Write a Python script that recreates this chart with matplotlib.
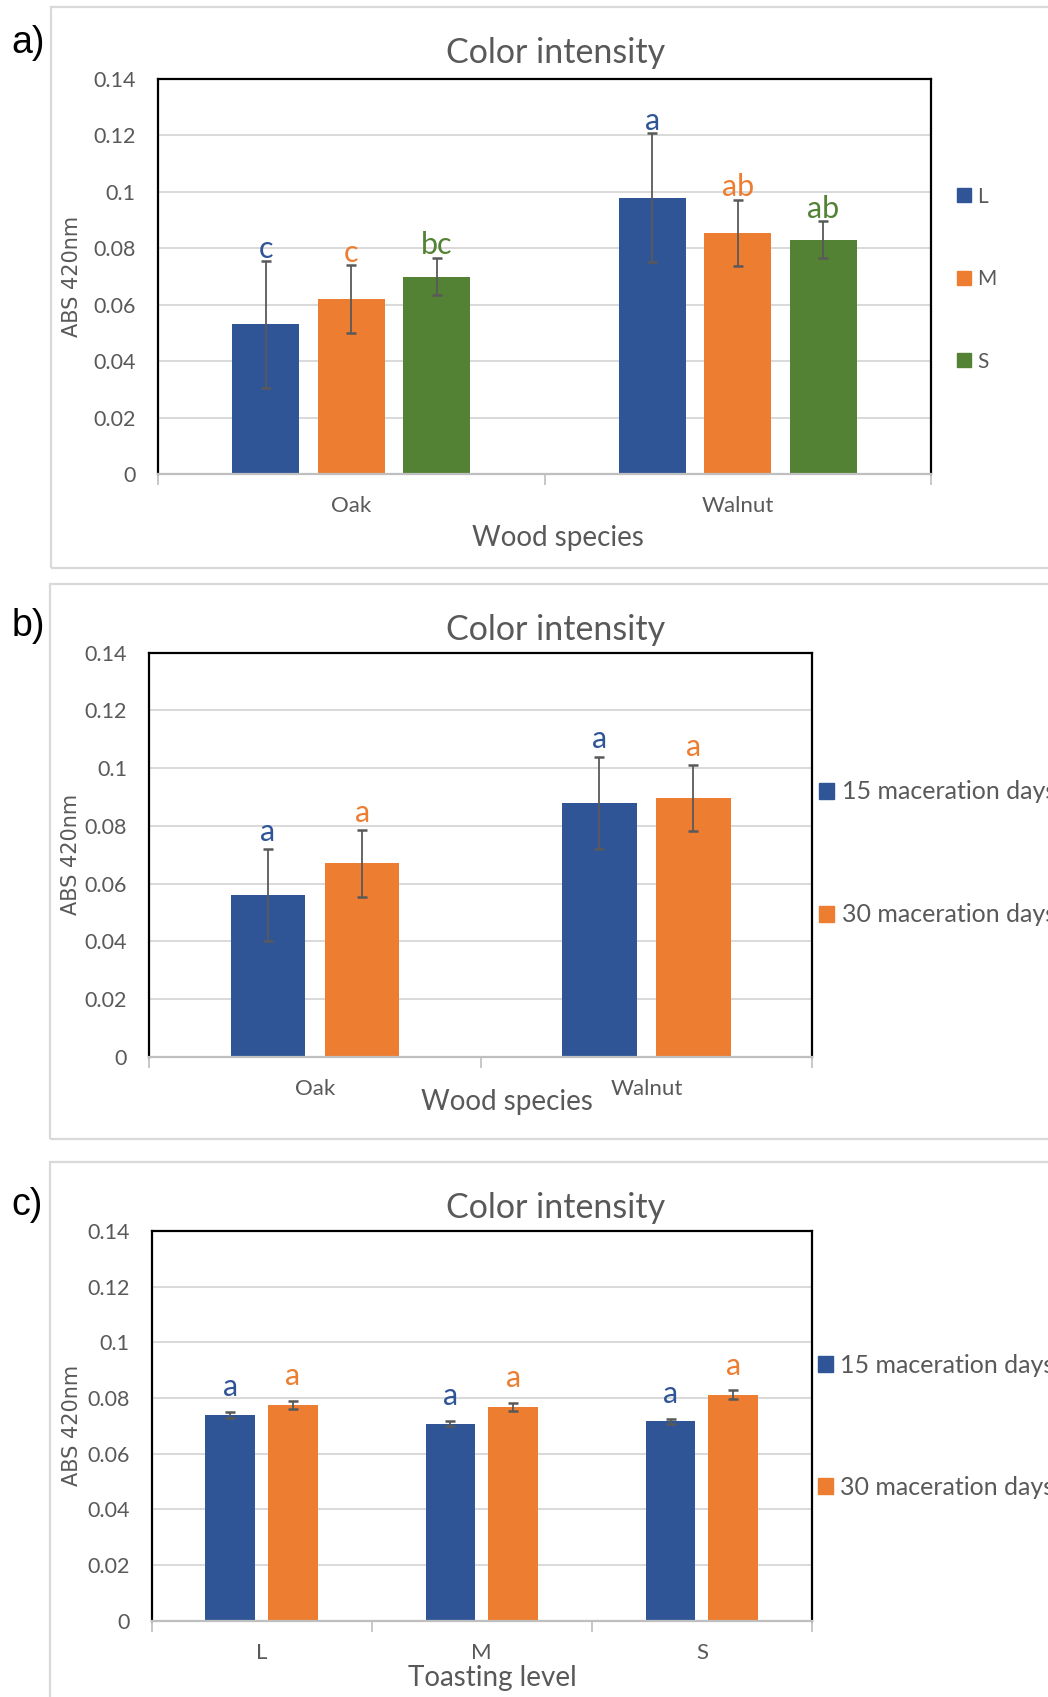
import matplotlib
matplotlib.use('Agg')

import matplotlib.pyplot as plt
from matplotlib.patches import Rectangle, Patch
import numpy as np

plt.rcParams['font.family'] = ['Lato', 'DejaVu Sans']

BLUE = '#2F5597'
ORANGE = '#ED7D31'
GREEN = '#548235'
TXT = '#595959'

# --- a) wood species, by toasting level ---
a_categories = ['Oak', 'Walnut']
a_L = [0.053, 0.098]
a_L_err = [0.0225, 0.0228]
a_L_letters = ['c', 'a']
a_M = [0.062, 0.0855]
a_M_err = [0.012, 0.0117]
a_M_letters = ['c', 'ab']
a_S = [0.070, 0.083]
a_S_err = [0.0066, 0.0066]
a_S_letters = ['bc', 'ab']

# --- b) wood species, by maceration time ---
b_categories = ['Oak', 'Walnut']
b_15 = [0.056, 0.088]
b_15_err = [0.016, 0.016]
b_15_letters = ['a', 'a']
b_30 = [0.067, 0.0897]
b_30_err = [0.0115, 0.0115]
b_30_letters = ['a', 'a']

# --- c) toasting level, by maceration time ---
c_categories = ['L', 'M', 'S']
c_15 = [0.0739, 0.0708, 0.0716]
c_15_err = [0.0010, 0.0008, 0.0008]
c_15_letters = ['a', 'a', 'a']
c_30 = [0.0774, 0.0767, 0.0812]
c_30_err = [0.0014, 0.0014, 0.0015]
c_30_letters = ['a', 'a', 'a']

W, H = 1048, 1697
fig = plt.figure(figsize=(W / 100, H / 100), dpi=100)


def px_rect(l, t, r, b):
    return [l / W, 1 - b / H, (r - l) / W, (b - t) / H]


def add_box(l, t, b):
    fig.patches.append(Rectangle((l / W, 1 - b / H), 1.5, (b - t) / H,
                                 transform=fig.transFigure, fill=False,
                                 ec='#D9D9D9', lw=1.6))


def draw_panel(ax, categories, series, width, step, letter_off):
    n = len(categories)
    k = len(series)
    pos = np.arange(n)
    for i, (vals, errs, letters, color, name) in enumerate(series):
        x = pos + (i - (k - 1) / 2) * step
        ax.bar(x, vals, width, color=color, zorder=2, label=name)
        ax.errorbar(x, vals, yerr=errs, fmt='none', ecolor='#595959',
                    elinewidth=1.3, capsize=3.5, capthick=1.8, zorder=3)
        for xi, v, e, t in zip(x, vals, errs, letters):
            ax.annotate(t, (xi, v + e), xytext=(0, letter_off),
                        textcoords='offset points', ha='center',
                        va='baseline', color=color, fontsize=22)

    ax.set_xlim(-0.5, n - 0.5)
    ax.set_ylim(0, 0.14)
    yt = np.round(np.arange(0, 0.141, 0.02), 2)
    ax.set_yticks(yt)
    ax.set_yticklabels([f'{v:g}' for v in yt])
    ax.yaxis.grid(True, color='#D9D9D9', lw=1.4)
    ax.set_axisbelow(True)
    for s in ['top', 'left', 'right']:
        ax.spines[s].set_color('black')
        ax.spines[s].set_linewidth(1.6)
    ax.spines['bottom'].set_color('#BFBFBF')
    ax.spines['bottom'].set_linewidth(1.6)

    ax.set_xticks(pos)
    ax.set_xticklabels(categories)
    ax.set_xticks(np.arange(n + 1) - 0.5, minor=True)
    ax.tick_params(axis='x', which='major', length=0, pad=16,
                   labelsize=16, labelcolor=TXT)
    ax.tick_params(axis='x', which='minor', length=8, width=1.2,
                   color='#BFBFBF')
    ax.tick_params(axis='y', length=0, pad=16, labelsize=15.5, labelcolor=TXT)


def add_legend(ax, series, anchor, fontsize, spacing, hsize):
    handles = [Patch(color=c, label=nm) for _, _, _, c, nm in series]
    ax.legend(handles=handles, loc='center left', bbox_to_anchor=anchor,
              frameon=False, fontsize=fontsize, labelcolor=TXT,
              handlelength=hsize, handleheight=hsize, handletextpad=0.3,
              labelspacing=spacing, borderaxespad=0, borderpad=0)


def add_texts(ax, title_y, label, label_y, xlabel, xlabel_pos, ylabel_x):
    fig.text(0.530, 1 - title_y / H, 'Color intensity', ha='center',
             va='center', fontsize=24.5, color=TXT)
    fig.text(0.011, 1 - label_y / H, label, ha='left', va='center',
             fontsize=27, color='black', family='Liberation Sans')
    ax.text(xlabel_pos[0], xlabel_pos[1], xlabel, transform=ax.transAxes,
            ha='center', va='center', fontsize=20, color=TXT)
    ax.text(ylabel_x, 0.5, 'ABS 420nm', transform=ax.transAxes,
            rotation=90, ha='center', va='center', fontsize=15, color=TXT,
            family='DejaVu Sans')


# panel a
add_box(51, 6.5, 568)
ax_a = fig.add_axes(px_rect(158, 79, 931, 474))
a_series = [(a_L, a_L_err, a_L_letters, BLUE, 'L'),
            (a_M, a_M_err, a_M_letters, ORANGE, 'M'),
            (a_S, a_S_err, a_S_letters, GREEN, 'S')]
draw_panel(ax_a, a_categories, a_series, 0.174, 0.221, 2.5)
add_legend(ax_a, a_series, (1.034, 0.493), 15, 3.0, 0.65)
add_texts(ax_a, 53, 'a)', 43, 'Wood species', (0.518, -0.162), -0.111)

# panel b
add_box(50, 583.5, 1139)
ax_b = fig.add_axes(px_rect(149.4, 652.8, 812, 1056.6))
b_series = [(b_15, b_15_err, b_15_letters, BLUE, '15 maceration days'),
            (b_30, b_30_err, b_30_letters, ORANGE, '30 maceration days')]
draw_panel(ax_b, b_categories, b_series, 0.2255, 0.284, 6)
add_legend(ax_b, b_series, (1.011, 0.503), 18, 4.0, 0.6)
add_texts(ax_b, 630, 'b)', 626, 'Wood species', (0.539, -0.112), -0.118)

# panel c
add_box(50, 1161.6, 1750)
ax_c = fig.add_axes(px_rect(151.6, 1231, 812, 1620.7))
c_series = [(c_15, c_15_err, c_15_letters, BLUE, '15 maceration days'),
            (c_30, c_30_err, c_30_letters, ORANGE, '30 maceration days')]
draw_panel(ax_c, c_categories, c_series, 0.226, 0.285, 11.5)
add_legend(ax_c, c_series, (1.009, 0.499), 18, 3.95, 0.6)
add_texts(ax_c, 1208, 'c)', 1205, 'Toasting level', (0.516, -0.147), -0.121)

fig.savefig('out.png', dpi=100)
